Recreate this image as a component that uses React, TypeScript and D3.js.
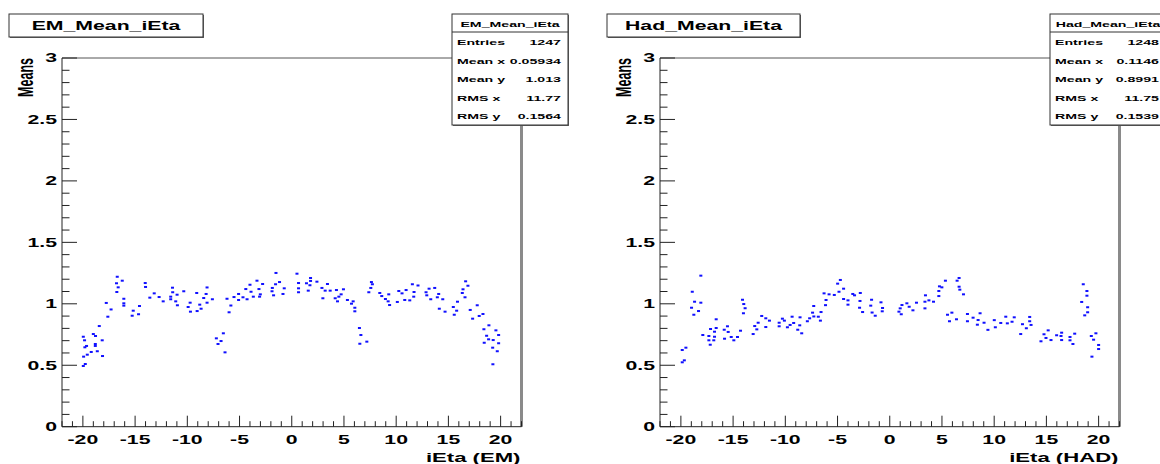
import React from "react";
import * as d3 from "d3";

// ---------- DATA ----------
const xTicks = [-20, -15, -10, -5, 0, 5, 10, 15, 20];
const yTicks = [0, 0.5, 1, 1.5, 2, 2.5, 3];
const yTickLabels = ["0", "0.5", "1", "1.5", "2", "2.5", "3"];

const emTitle = "EM_Mean_iEta";
const hadTitle = "Had_Mean_iEta";
const emXLabel = "iEta (EM)";
const hadXLabel = "iEta (HAD)";
const yLabel = "Means";

const statLabels = ["Entries", "Mean x", "Mean y", "RMS x", "RMS y"];
const emStats = ["1247", "0.05934", "1.013", "11.77", "0.1564"];
const hadStats = ["1248", "0.1146", "0.8991", "11.75", "0.1539"];

// [iEta, mean]
const emPoints: [number, number][] = [
  [-19.96, 0.732], [-19.84, 0.703], [-19.0, 0.754], [-18.79, 0.738], [-19.81, 0.646],
  [-19.65, 0.657], [-18.81, 0.673], [-18.81, 0.657], [-18.15, 0.703], [-19.2, 0.608],
  [-18.62, 0.614], [-19.58, 0.586], [-19.93, 0.57], [-18.12, 0.575], [-19.77, 0.51],
  [-19.96, 0.494], [-18.43, 0.819], [-17.76, 1.007], [-17.3, 0.954], [-17.61, 0.895],
  [-16.71, 1.22], [-16.78, 1.167], [-16.23, 1.188], [-16.62, 1.134], [-16.75, 1.096],
  [-16.08, 1.041], [-16.08, 1.004], [-16.08, 0.985], [-15.18, 0.944], [-15.28, 0.903],
  [-14.67, 0.915], [-14.58, 0.982], [-14.03, 1.169], [-14.0, 1.137], [-13.59, 1.05],
  [-13.17, 1.085], [-12.7, 1.055], [-12.31, 1.02], [-11.59, 1.058], [-11.42, 1.131],
  [-11.4, 1.094], [-10.98, 1.074], [-11.59, 1.037], [-11.11, 1.02], [-10.95, 0.988],
  [-10.34, 1.102], [-9.73, 1.009], [-9.92, 0.974], [-9.7, 0.936], [-9.1, 1.088],
  [-9.06, 0.941], [-8.81, 0.993], [-8.68, 0.96], [-8.43, 1.047], [-8.2, 1.08],
  [-8.11, 1.133], [-8.11, 1.009], [-7.6, 1.037], [-7.22, 0.719], [-7.06, 0.673],
  [-6.77, 0.697], [-6.55, 0.76], [-6.39, 0.605], [-6.2, 1.041], [-6.0, 0.931],
  [-5.83, 0.986], [-5.53, 1.055], [-5.09, 1.08], [-5.09, 1.031], [-4.67, 1.053],
  [-4.4, 1.12], [-4.28, 1.037], [-4.0, 1.155], [-3.9, 1.098], [-3.68, 1.058],
  [-3.33, 1.188], [-3.14, 1.12], [-3.01, 1.077], [-3.08, 1.058], [-2.79, 1.161],
  [-1.86, 1.129], [-1.89, 1.102], [-1.74, 1.069], [-1.51, 1.251], [-1.55, 1.159],
  [-1.17, 1.177], [-0.84, 1.08], [-0.72, 1.126], [0.5, 1.245], [0.65, 1.169],
  [0.65, 1.126], [0.65, 1.094], [1.41, 1.167], [1.58, 1.107], [1.74, 1.151],
  [1.8, 1.21], [1.8, 1.186], [2.41, 1.18], [2.89, 1.129], [3.42, 1.161],
  [3.2, 1.107], [3.68, 1.107], [2.98, 1.045], [4.16, 1.045], [4.28, 1.112],
  [4.38, 1.02], [4.51, 1.058], [4.73, 1.077], [4.95, 1.118], [5.33, 1.031],
  [5.72, 1.001], [5.88, 1.02], [6.04, 0.968], [6.04, 0.939], [6.48, 0.803],
  [6.62, 0.746], [6.52, 0.675], [7.19, 0.692], [7.38, 1.094], [7.63, 1.177],
  [7.72, 1.159], [7.57, 1.129], [8.43, 1.088], [8.62, 1.063], [8.97, 1.039],
  [9.29, 1.077], [9.23, 1.02], [9.37, 0.99], [10.11, 1.015], [10.25, 1.104],
  [10.56, 1.085], [10.82, 1.031], [10.95, 1.112], [11.3, 1.028], [11.55, 1.159],
  [11.71, 1.096], [11.68, 1.058], [12.09, 1.149], [12.86, 1.094], [12.93, 1.069],
  [13.15, 1.123], [13.31, 1.037], [13.69, 1.129], [13.94, 1.053], [14.07, 1.08],
  [14.13, 0.96], [14.46, 1.037], [14.68, 0.936], [15.47, 0.974], [15.56, 0.911],
  [15.87, 1.017], [15.79, 0.944], [16.33, 1.088], [16.4, 1.118], [16.59, 1.053],
  [16.65, 1.183], [16.87, 1.147], [17.09, 0.95], [17.32, 0.879], [17.76, 0.988],
  [17.95, 0.901], [18.31, 0.917], [18.4, 0.793], [18.88, 0.825], [19.55, 0.784],
  [18.66, 0.74], [18.85, 0.711], [19.81, 0.746], [19.29, 0.705], [18.43, 0.683],
  [19.81, 0.679], [19.24, 0.643], [19.68, 0.614], [19.26, 0.508],
];

const hadPoints: [number, number][] = [
  [-19.87, 0.624], [-19.52, 0.643], [-19.87, 0.524], [-19.67, 0.54], [-18.91, 1.098],
  [-18.09, 1.229], [-18.69, 1.017], [-18.09, 1.009], [-18.98, 0.968], [-18.31, 0.941],
  [-18.76, 0.911], [-17.9, 0.746], [-17.16, 0.795], [-17.32, 0.738], [-16.78, 0.732],
  [-17.32, 0.703], [-16.85, 0.703], [-17.19, 0.667], [-16.78, 0.773], [-16.62, 0.803],
  [-16.62, 0.874], [-15.85, 0.789], [-15.82, 0.716], [-15.54, 0.817], [-15.47, 0.771],
  [-15.18, 0.73], [-14.93, 0.703], [-14.58, 0.73], [-14.29, 0.781], [-14.1, 1.033],
  [-13.98, 0.998], [-13.85, 0.964], [-14.01, 0.923], [-13.08, 0.754], [-12.93, 0.819],
  [-12.73, 0.792], [-12.6, 0.846], [-12.26, 0.901], [-11.87, 0.811], [-11.87, 0.882],
  [-11.52, 0.863], [-10.59, 0.846], [-10.59, 0.817], [-10.28, 0.879], [-10.09, 0.863],
  [-9.8, 0.809], [-9.54, 0.828], [-9.35, 0.895], [-9.2, 0.844], [-8.81, 0.789],
  [-8.62, 0.825], [-8.59, 0.89], [-8.43, 0.76], [-7.89, 0.858], [-7.67, 0.882],
  [-7.39, 0.928], [-7.28, 0.982], [-7.27, 0.897], [-6.84, 0.895], [-6.64, 0.863],
  [-6.58, 0.933], [-6.29, 1.085], [-6.1, 1.031], [-6.15, 0.989], [-5.81, 1.077],
  [-5.31, 1.072], [-4.99, 1.164], [-4.73, 1.194], [-4.86, 1.098], [-4.42, 1.123],
  [-4.42, 1.039], [-4.0, 1.028], [-4.0, 0.993], [-3.54, 1.08], [-3.37, 1.069],
  [-2.82, 1.088], [-2.85, 1.023], [-2.89, 0.968], [-2.6, 0.933], [-1.82, 0.985],
  [-1.74, 1.033], [-1.69, 0.929], [-1.39, 0.903], [-0.84, 1.012], [-0.69, 0.966],
  [-0.72, 0.939], [0.88, 0.936], [1.0, 0.963], [1.1, 0.915], [1.17, 0.99],
  [1.64, 1.004], [1.86, 0.976], [2.22, 0.947], [2.56, 1.009], [3.37, 1.017],
  [3.42, 1.069], [3.37, 0.963], [3.75, 1.028], [4.19, 1.017], [4.7, 1.063],
  [4.76, 1.142], [4.7, 1.104], [4.99, 1.134], [5.33, 1.188], [6.45, 1.188],
  [6.64, 1.21], [6.64, 1.139], [6.71, 1.115], [7.06, 1.077], [5.53, 0.911],
  [5.95, 0.928], [5.72, 0.858], [6.39, 0.874], [7.44, 0.917], [7.98, 0.887],
  [7.44, 0.858], [8.65, 0.923], [8.46, 0.868], [8.39, 0.83], [9.03, 0.846],
  [9.4, 0.788], [10.01, 0.867], [10.11, 0.809], [10.63, 0.844], [11.11, 0.895],
  [11.26, 0.841], [11.92, 0.89], [11.71, 0.854], [12.71, 0.834], [12.54, 0.754],
  [13.08, 0.801], [13.4, 0.893], [13.4, 0.858], [13.53, 0.828], [14.48, 0.695],
  [14.77, 0.752], [14.96, 0.722], [15.17, 0.784], [15.44, 0.705], [15.98, 0.744],
  [16.46, 0.765], [16.46, 0.705], [16.4, 0.738], [17.26, 0.73], [17.26, 0.703],
  [17.54, 0.673], [17.71, 0.757], [18.53, 1.159], [18.38, 1.015], [18.88, 1.104],
  [18.88, 1.066], [18.95, 0.972], [18.95, 0.931], [18.67, 0.906], [19.3, 0.738],
  [19.52, 0.708], [19.74, 0.76], [20.0, 0.665], [20.0, 0.632], [19.36, 0.57],
];

// ---------- RENDERING ----------
const SX = 1.77; // horizontal text stretch of the original picture
const FONT = "'Liberation Sans', Arial, Helvetica, sans-serif";

function SText(props: {
  x: number; y: number; size: number; anchor?: string; rotate?: boolean;
  children: React.ReactNode; fill?: string;
}) {
  const { x, y, size, anchor = "start", rotate = false, children, fill = "#000" } = props;
  const t = `translate(${x},${y}) scale(${SX},1)${rotate ? " rotate(-90)" : ""}`;
  return (
    <text transform={t} fontFamily={FONT} fontWeight="bold" fontSize={size}
      textAnchor={anchor} fill={fill}>
      {children}
    </text>
  );
}

function Panel(props: {
  x0: number; title: string; xLabel: string; points: [number, number][];
  stats: string[]; statX: number; statW: number; titleBoxW: number;
}) {
  const { x0, title, xLabel, points, stats, statX, statW, titleBoxW } = props;
  const left = x0, right = x0 + 459.5, top = 58, bottom = 426.7;
  const x = d3.scaleLinear().domain([-22, 22]).range([left, right]);
  const y = d3.scaleLinear().domain([0, 3]).range([bottom, top]);
  const minorX = d3.range(-22, 23).filter((v) => v % 5 !== 0);
  const minorY = d3.range(0, 31).map((v) => v / 10).filter((v) => Math.round(v * 10) % 5 !== 0);
  const tickColor = "#222";
  const titleBoxX = left - 53;
  const rowBase = [45, 64, 81.5, 101, 118.5];

  return (
    <g>
      {/* frame */}
      <line x1={left} x2={right} y1={top} y2={top} stroke="#555" strokeWidth={1} />
      <line x1={right} x2={right} y1={top} y2={bottom} stroke="#8a8a8a" strokeWidth={3} />
      <line x1={left} x2={left} y1={top} y2={bottom} stroke="#222" strokeWidth={1} />
      <line x1={left} x2={right} y1={bottom} y2={bottom} stroke="#222" strokeWidth={1} />

      {/* y ticks */}
      {yTicks.map((v) => (
        <line key={"ym" + v} x1={left} x2={left + 15} y1={y(v)} y2={y(v)} stroke={tickColor} strokeWidth={1} />
      ))}
      {minorY.map((v) => (
        <line key={"yn" + v} x1={left} x2={left + 7.5} y1={y(v)} y2={y(v)} stroke={tickColor} strokeWidth={1} />
      ))}
      {yTicks.map((v, i) => (
        <SText key={"yl" + v} x={left - 5} y={y(v) + 4.3} size={12} anchor="end">{yTickLabels[i]}</SText>
      ))}

      {/* x ticks */}
      {xTicks.map((v) => (
        <line key={"xm" + v} x1={x(v)} x2={x(v)} y1={bottom} y2={bottom - 11} stroke={tickColor} strokeWidth={1} />
      ))}
      {minorX.map((v) => (
        <line key={"xn" + v} x1={x(v)} x2={x(v)} y1={bottom} y2={bottom - 5.5} stroke={tickColor} strokeWidth={1} />
      ))}
      {xTicks.map((v) => (
        <SText key={"xl" + v} x={x(v)} y={443.5} size={12} anchor="middle">{String(v)}</SText>
      ))}

      {/* axis titles */}
      <SText x={right - 1} y={461.5} size={12.5} anchor="end">{xLabel}</SText>
      <SText x={left - 29} y={top} size={12.5} anchor="end" rotate>{yLabel}</SText>

      {/* points */}
      {points.map(([px, py], i) => (
        <rect key={"p" + i} x={x(px) - 1.5} y={y(py) - 1} width={3} height={2} fill="#1010ff" />
      ))}

      {/* title box */}
      <rect x={titleBoxX + 1} y={15} width={titleBoxW} height={23} fill="#666" />
      <rect x={titleBoxX} y={14} width={titleBoxW} height={23} fill="#fff" stroke="#333" strokeWidth={1} />
      <SText x={titleBoxX + titleBoxW / 2} y={29.5} size={12} anchor="middle">{title}</SText>

      {/* stats box */}
      <rect x={statX + 1} y={15} width={statW} height={111} fill="#666" />
      <rect x={statX} y={14} width={statW} height={111} fill="#fff" stroke="#333" strokeWidth={1} />
      <line x1={statX} x2={statX + statW} y1={32} y2={32} stroke="#333" strokeWidth={1} />
      <SText x={statX + statW / 2} y={26.5} size={8} anchor="middle">{title}</SText>
      {statLabels.map((s, i) => (
        <SText key={"sl" + i} x={statX + 5} y={rowBase[i]} size={8}>{s}</SText>
      ))}
      {stats.map((s, i) => (
        <SText key={"sv" + i} x={statX + 109} y={rowBase[i]} size={8} anchor="end">{s}</SText>
      ))}
    </g>
  );
}

export default function App() {
  return (
    <svg width={1160} height={464} style={{ position: "absolute", left: 0, top: 0, background: "#fff" }}>
      <rect x={0} y={0} width={1160} height={464} fill="#fff" />
      <Panel x0={62} title={emTitle} xLabel={emXLabel} points={emPoints} stats={emStats}
        statX={452} statW={116} titleBoxW={194} />
      <Panel x0={660} title={hadTitle} xLabel={hadXLabel} points={hadPoints} stats={hadStats}
        statX={1050} statW={116} titleBoxW={193} />
    </svg>
  );
}
